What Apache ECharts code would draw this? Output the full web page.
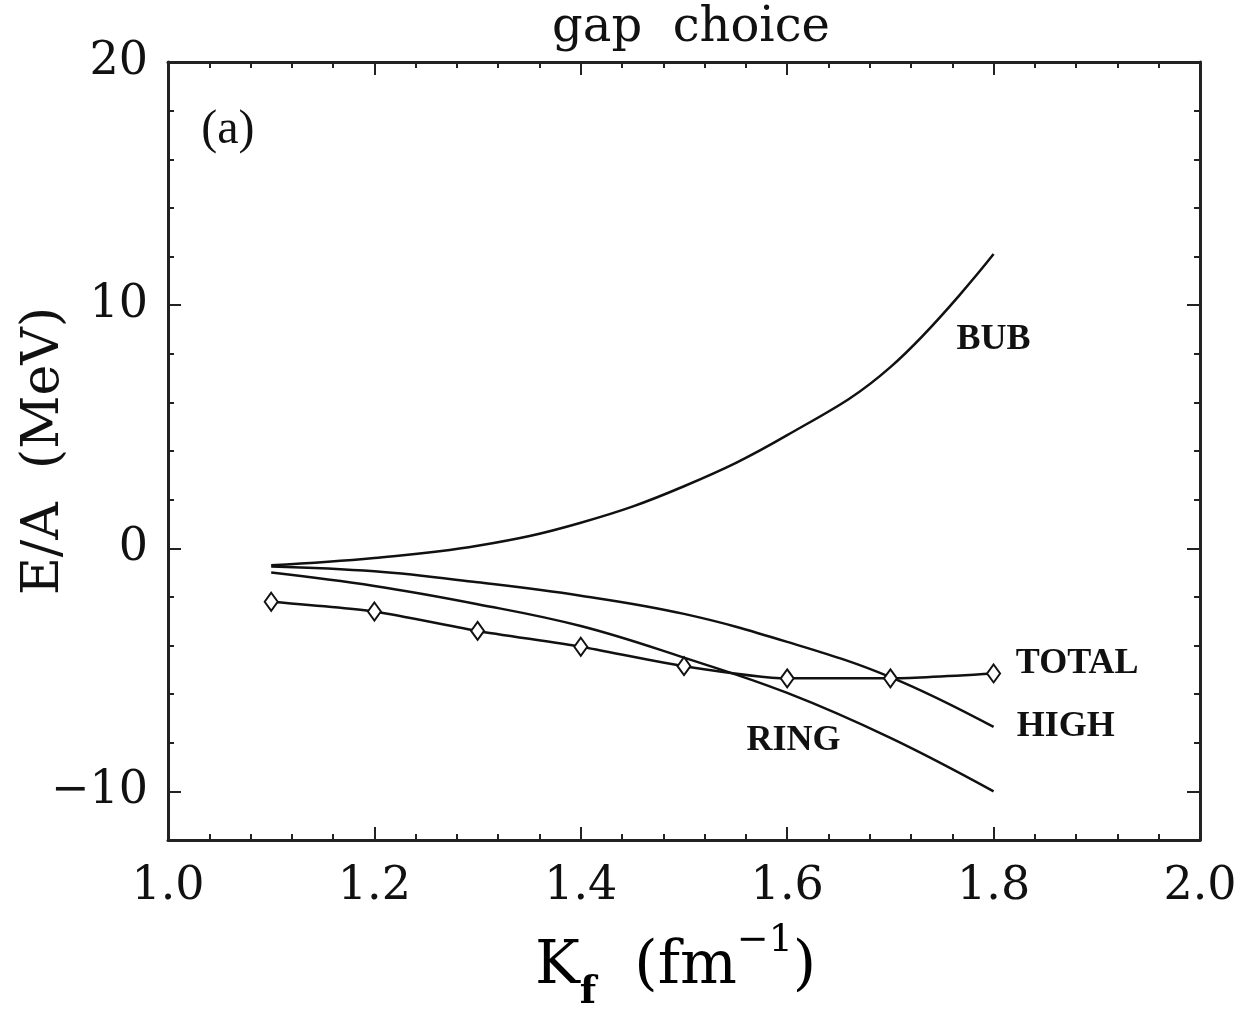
<!DOCTYPE html>
<html>
<head>
<meta charset="utf-8">
<script src="https://cdn.jsdelivr.net/npm/echarts@6/dist/echarts.min.js"></script>
<style>
  html, body { margin: 0; padding: 0; background: #fff; }
  #chart { width: 1245px; height: 1013px; }
</style>
</head>
<body>
<div id="chart"></div>
<script>
// data
const kf = [1.1, 1.2, 1.3, 1.4, 1.5, 1.6, 1.7, 1.8];
const bub = [-0.7, -0.4, 0.1, 1.05, 2.55, 4.65, 7.45, 12.1];
const high = [-0.75, -0.95, -1.4, -1.95, -2.7, -3.85, -5.3, -7.35];
const ring = [-1.0, -1.55, -2.3, -3.2, -4.5, -5.95, -7.8, -10.0];
const total = [-2.2, -2.6, -3.4, -4.05, -4.85, -5.35, -5.35, -5.15];
const yMajor = [-10, 0, 10, 20];

const serif = 'DejaVu Serif';
const labelFont = 'Liberation Serif';

function pairs(ys) {
  return kf.map((x, i) => [x, ys[i]]);
}

// text placed in data coords
function tag(text, x, y, style) {
  return {
    symbol: 'circle',
    symbolSize: 0,
    silent: true,
    itemStyle: { opacity: 1 },
    label: Object.assign({ show: true, position: 'inside', color: '#111', fontFamily: labelFont, fontWeight: 'bold', fontSize: 36 }, style),
    data: [{ coord: [x, y], value: text, label: { formatter: text } }]
  };
}

const lineStyle = { color: '#111', width: 2.5 };

const xBase = {
  type: 'value', min: 1.0, max: 2.0, interval: 0.2,
  splitLine: { show: false },
  axisLine: { show: true, onZero: false, lineStyle: { color: '#222', width: 3 } },
  axisTick: { show: true, inside: true, length: 13, lineStyle: { color: '#222', width: 2 } },
  minorTick: { show: true, splitNumber: 5, length: 6, lineStyle: { color: '#222', width: 2 } }
};

const yMinor = {
  type: 'value', min: -12, max: 20, interval: 2,
  splitLine: { show: false },
  axisLine: { show: true, onZero: false, lineStyle: { color: '#222', width: 3 } },
  axisTick: { show: true, inside: true, length: 6, lineStyle: { color: '#222', width: 2 } },
  axisLabel: { show: false }
};

const yMaj = {
  type: 'value', min: -12, max: 20,
  splitLine: { show: false },
  axisLine: { show: false },
  axisTick: { show: true, inside: true, length: 13, customValues: yMajor, lineStyle: { color: '#222', width: 2 } },
  axisLabel: { show: false }
};

const option = {
  animation: false,
  backgroundColor: '#fff',
  title: {
    text: 'gap  choice',
    left: 686, top: 0,
    textAlign: 'center',
    textStyle: { fontFamily: serif, fontWeight: 'normal', fontSize: 48, color: '#111' }
  },
  grid: { left: 168, right: 45, top: 62, bottom: 173, outerBoundsMode: 'none', containLabel: false },
  xAxis: [
    Object.assign({}, xBase, {
      position: 'bottom',
      axisLabel: {
        margin: 24, color: '#111', fontFamily: serif, fontSize: 46,
        formatter: v => v.toFixed(1)
      }
    }),
    Object.assign({}, xBase, { position: 'top', axisLabel: { show: false } })
  ],
  yAxis: [
    Object.assign({}, yMinor, {
      position: 'left',
      name: 'E/A  (MeV)',
      nameLocation: 'middle',
      nameGap: 98,
      nameMoveOverlap: false,
      nameTextStyle: { fontFamily: serif, fontSize: 52, color: '#111' },
      axisLabel: {
        show: true, margin: 20, color: '#111', fontFamily: serif, fontSize: 46,
        formatter: v => (v % 10 === 0 ? String(v).replace('-', '\u2212') : '')
      }
    }),
    Object.assign({}, yMaj, { position: 'left' }),
    Object.assign({}, yMinor, { position: 'right' }),
    Object.assign({}, yMaj, { position: 'right' })
  ],
  graphic: [{
    type: 'text',
    left: 535, top: 922,
    style: {
      text: '{m|K}{s|f}{m|  (fm}{p|\u22121}{m|)}',
      rich: {
        m: { fontFamily: serif, fontSize: 60, color: '#111', lineHeight: 90, verticalAlign: 'middle' },
        s: { fontFamily: serif, fontSize: 38, fontWeight: 'bold', color: '#111', lineHeight: 38, verticalAlign: 'bottom' },
        p: { fontFamily: serif, fontSize: 38, color: '#111', lineHeight: 38, verticalAlign: 'top' }
      }
    }
  }],
  series: [
    {
      name: 'BUB', type: 'line', smooth: 0.4, showSymbol: false,
      lineStyle, data: pairs(bub),
      markPoint: tag('BUB', 1.8, 8.56)
    },
    {
      name: 'HIGH', type: 'line', smooth: 0.4, showSymbol: false,
      lineStyle, data: pairs(high),
      markPoint: tag('HIGH', 1.87, -7.36)
    },
    {
      name: 'RING', type: 'line', smooth: 0.4, showSymbol: false,
      lineStyle, data: pairs(ring),
      markPoint: tag('RING', 1.606, -7.9)
    },
    {
      name: 'TOTAL', type: 'line', smooth: 0.2,
      symbol: 'diamond', symbolSize: [13, 18], showSymbol: true,
      itemStyle: { color: '#fff', borderColor: '#111', borderWidth: 2 },
      lineStyle, data: pairs(total),
      markPoint: tag('TOTAL', 1.881, -4.73)
    },
    {
      // panel tag "(a)"
      type: 'line', data: [], silent: true,
      markPoint: tag('(a)', 1.058, 17.2, { fontWeight: 'normal', fontSize: 48 })
    }
  ]
};

const chart = echarts.init(document.getElementById('chart'));
chart.setOption(option);
</script>
</body>
</html>
